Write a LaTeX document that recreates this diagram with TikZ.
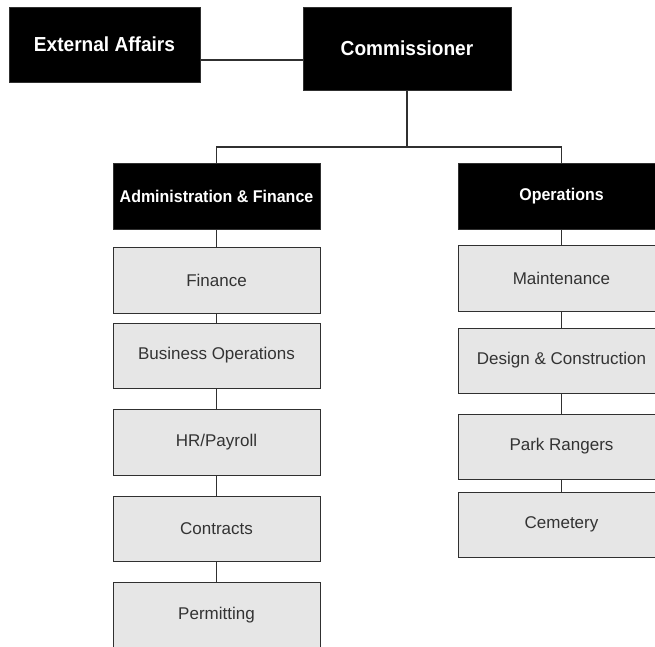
\documentclass[tikz,border=0pt]{standalone}
\usepackage{fontspec}
\setmainfont{Liberation Sans}
\newfontfamily\headfont{Liberation Sans}[FakeStretch=0.94]
\definecolor{linegray}{HTML}{303030}
\definecolor{boxgray}{HTML}{E6E6E6}
\definecolor{txtgray}{HTML}{333333}
\begin{document}
\begin{tikzpicture}[x=1pt,y=-1pt,
  topbox/.style={fill=black,draw=linegray,line width=1pt,text=white,inner sep=0pt,
    font=\headfont\bfseries\fontsize{20.3}{24}\selectfont},
  secbox/.style={fill=black,draw=linegray,line width=1pt,text=white,inner sep=0pt,
    minimum width=207pt,minimum height=66pt,
    font=\headfont\bfseries\fontsize{17}{20}\selectfont},
  unitbox/.style={fill=boxgray,draw=linegray,line width=1pt,text=txtgray,inner sep=0pt,
    minimum width=207pt,minimum height=66pt,
    font=\fontsize{17}{20}\selectfont},
  conn/.style={draw=linegray,line width=1.1pt}]
\useasboundingbox (0,0) rectangle (655,646);
\begin{scope}
\clip (0,0) rectangle (655,646);
\node[topbox,minimum width=191pt,minimum height=75pt] (ext) at (104.5,44.5) {External Affairs};
\node[topbox,minimum width=208pt,minimum height=83pt] (comm) at (407,48.5) {Commissioner};
\node[secbox] (admin) at (216.5,196) {Administration \& Finance};
\node[secbox] (ops) at (561.5,196) {Operations};
\node[unitbox] (fin) at (216.5,280) {Finance};
\node[unitbox,minimum height=65pt] (bus) at (216.5,355.5) {Business Operations};
\node[unitbox] (hr) at (216.5,442) {HR/Payroll};
\node[unitbox,minimum height=65pt] (con) at (216.5,528.5) {Contracts};
\node[unitbox] (per) at (216.5,615) {Permitting};
\node[unitbox] (mai) at (561.5,278) {Maintenance};
\node[unitbox,minimum height=65pt] (des) at (561.5,360.5) {Design \& Construction};
\node[unitbox,minimum height=65pt] (par) at (561.5,446.5) {Park Rangers};
\node[unitbox,minimum height=65pt] (cem) at (561.5,524.5) {Cemetery};
\end{scope}
\coordinate (hy) at (0,60);
\coordinate (by) at (0,147);
\draw[conn] (ext.east |- hy) -- (comm.west |- hy);
\draw[conn] (comm.south) -- (comm.south |- by);
\draw[conn] (admin.north) -- (admin.north |- by) -- (ops.north |- by) -- (ops.north);
\draw[conn] (admin.south) -- (fin.north);
\draw[conn] (fin.south) -- (bus.north);
\draw[conn] (bus.south) -- (hr.north);
\draw[conn] (hr.south) -- (con.north);
\draw[conn] (con.south) -- (per.north);
\draw[conn] (ops.south) -- (mai.north);
\draw[conn] (mai.south) -- (des.north);
\draw[conn] (des.south) -- (par.north);
\draw[conn] (par.south) -- (cem.north);
\end{tikzpicture}
\end{document}
